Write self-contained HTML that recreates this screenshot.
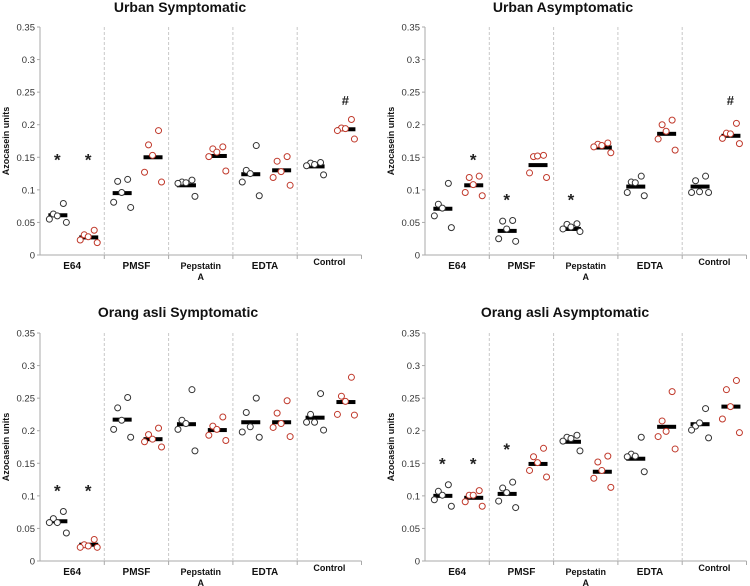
<!DOCTYPE html>
<html><head><meta charset="utf-8">
<style>
html,body{margin:0;padding:0;background:#fff;}
svg{display:block;font-family:"Liberation Sans",Arial,sans-serif;}
</style></head>
<body>
<svg id="chart" width="750" height="586" viewBox="0 0 750 586" xmlns="http://www.w3.org/2000/svg"></svg>
<script>
const categories = ["E64","PMSF","Pepstatin|A","EDTA","Control"];
const yTicks = [0,0.05,0.1,0.15,0.2,0.25,0.3,0.35];
const yTickLabels = ["0","0.05","0.1","0.15","0.2","0.25","0.3","0.35"];
const panelTitles = ["Urban Symptomatic","Urban Asymptomatic","Orang asli Symptomatic","Orang asli Asymptomatic"];

const p1Black = [[.079,.063,.060,.055,.050],[.116,.113,.096,.081,.073],[.115,.112,.111,.110,.090],[.168,.130,.125,.112,.091],[.142,.141,.139,.137,.123]];
const p1Red   = [[.038,.031,.028,.023,.019],[.191,.169,.153,.127,.112],[.166,.163,.158,.151,.129],[.151,.144,.128,.119,.107],[.208,.195,.194,.191,.178]];
const p1BlackMed = [.061,.095,.107,.124,.136];
const p1RedMed   = [.027,.150,.152,.130,.193];
const p2Black = [[.110,.078,.072,.060,.042],[.053,.052,.040,.025,.021],[.048,.047,.043,.040,.036],[.121,.112,.111,.096,.091],[.121,.114,.097,.096,.096]];
const p2Red   = [[.121,.119,.108,.096,.091],[.153,.151,.152,.126,.119],[.172,.170,.168,.166,.157],[.207,.200,.190,.178,.161],[.202,.187,.186,.179,.171]];
const p2BlackMed = [.071,.037,.040,.105,.105];
const p2RedMed   = [.107,.138,.165,.186,.183];
const p3Black = [[.076,.065,.059,.059,.043],[.251,.235,.216,.202,.190],[.263,.216,.211,.202,.169],[.250,.228,.206,.198,.190],[.257,.225,.213,.213,.201]];
const p3Red   = [[.033,.025,.023,.021,.021],[.204,.194,.187,.183,.175],[.221,.207,.202,.193,.185],[.246,.227,.211,.205,.191],[.282,.253,.245,.225,.224]];
const p3BlackMed = [.061,.217,.210,.213,.220];
const p3RedMed   = [.025,.187,.201,.213,.244];
const p4Black = [[.117,.107,.101,.094,.084],[.121,.112,.105,.092,.082],[.193,.190,.188,.184,.169],[.190,.164,.161,.160,.137],[.234,.207,.212,.201,.189]];
const p4Red   = [[.108,.101,.101,.091,.084],[.173,.160,.151,.139,.129],[.161,.152,.139,.127,.113],[.260,.215,.199,.191,.172],[.277,.263,.237,.218,.197]];
const p4BlackMed = [.100,.103,.183,.157,.210];
const p4RedMed   = [.097,.149,.137,.206,.237];
const p1Marks = [[0,0,.15,"*"],[0,1,.15,"*"],[4,1,.238,"#"]];
const p2Marks = [[0,1,.15,"*"],[1,0,.088,"*"],[2,0,.088,"*"],[4,1,.238,"#"]];
const p3Marks = [[0,0,.111,"*"],[0,1,.111,"*"]];
const p4Marks = [[0,0,.153,"*"],[0,1,.153,"*"],[1,0,.175,"*"]];

const panels = [
 {ox:40, top:27, bot:255, tx:180, ty:12, black:p1Black, red:p1Red, bm:p1BlackMed, rm:p1RedMed, marks:p1Marks},
 {ox:425, top:27, bot:255, tx:563, ty:12, black:p2Black, red:p2Red, bm:p2BlackMed, rm:p2RedMed, marks:p2Marks},
 {ox:40, top:333, bot:561, tx:178, ty:317, black:p3Black, red:p3Red, bm:p3BlackMed, rm:p3RedMed, marks:p3Marks},
 {ox:425, top:333, bot:561, tx:565, ty:317, black:p4Black, red:p4Red, bm:p4BlackMed, rm:p4RedMed, marks:p4Marks}
];
const GW = 64.3;
const jitter = [6,-4,0,-8,9];
const svg = document.getElementById('chart');
const NS = "http://www.w3.org/2000/svg";
function mk(tag, attrs, parent){const e=document.createElementNS(NS,tag);for(const k in attrs)e.setAttribute(k,attrs[k]);(parent||svg).appendChild(e);return e;}

panels.forEach((p,pi)=>{
  const g = mk('g',{});
  
  
  const y = v => p.bot - (v/0.35)*(p.bot-p.top);
  const xc = (ci,s) => p.ox + ci*GW + (s===0?0.27:0.75)*GW;
  const t = mk('text',{x:p.tx,y:p.ty,'text-anchor':'middle','font-size':14,'font-weight':'bold',fill:'#111'},g);
  t.textContent = panelTitles[pi];
  
  
  const yt = mk('text',{x:0,y:0,'text-anchor':'middle','font-size':9,'font-weight':'bold',fill:'#111',transform:`translate(${p.ox-31},${(p.top+p.bot)/2}) rotate(-90)`},g);
  yt.textContent = "Azocasein units";
  
  
  const ya = mk('line',{x1:p.ox,y1:p.top,x2:p.ox,y2:p.bot,stroke:'#aaa','stroke-width':1},g);
  
  
  const xa = mk('line',{x1:p.ox-3,y1:p.bot,x2:p.ox+5*GW,y2:p.bot,stroke:'#aaa','stroke-width':1},g);
  
  
  yTicks.forEach((v,i)=>{
    mk('line',{x1:p.ox-3,y1:y(v),x2:p.ox,y2:y(v),stroke:'#aaa'},g);
    const tl = mk('text',{x:p.ox-5,y:y(v)+3.5,'text-anchor':'end','font-size':9.5,fill:'#333'},g);
    tl.textContent = yTickLabels[i];
    
    
  });
  categories.forEach((c,ci)=>{
    const bx = p.ox+(ci+1)*GW;
    mk('line',{x1:bx,y1:p.bot,x2:bx,y2:p.bot+4,stroke:'#aaa'},g);
    if(ci<4){
      const d = mk('line',{x1:bx,y1:p.top,x2:bx,y2:p.bot,stroke:'#c8c8c8','stroke-dasharray':'3,2'},g);
      
      
    }
    const parts = c.split('|');
    const cx = p.ox+ci*GW+GW/2;
    const isCtl = c==="Control";
    parts.forEach((s,k)=>{
      const lt = mk('text',{x:cx,y:p.bot+(isCtl?10:14)+k*11,'text-anchor':'middle','font-size':isCtl||parts.length>1?9:10,'font-weight':'bold',fill:'#111'},g);
      lt.textContent = s;
      
      
    });
    [[p.black[ci],p.bm[ci],'#333',0],[p.red[ci],p.rm[ci],'#c0392b',1]].forEach(([pts,med,col,s])=>{
      const x0 = xc(ci,s);
      const bar = mk('rect',{x:x0-9,y:y(med)-2,width:19,height:4,fill:'#000'},g);
      
      
      pts.forEach((v,k)=>{
        const pt = mk('circle',{cx:x0+jitter[k],cy:y(v),r:3,fill:'#fff',stroke:col,'stroke-width':1},g);
        
        
      });
    });
  });
  p.marks.forEach(([ci,s,v,sym])=>{
    const m = mk('text',{x:xc(ci,s),y:y(v)+(sym==='*'?8:5),'text-anchor':'middle','font-size':sym==='*'?17:13,'font-weight':'bold',fill:'#222'},g);
    m.textContent = sym;
    
    
  });
});
</script>
</body></html>
